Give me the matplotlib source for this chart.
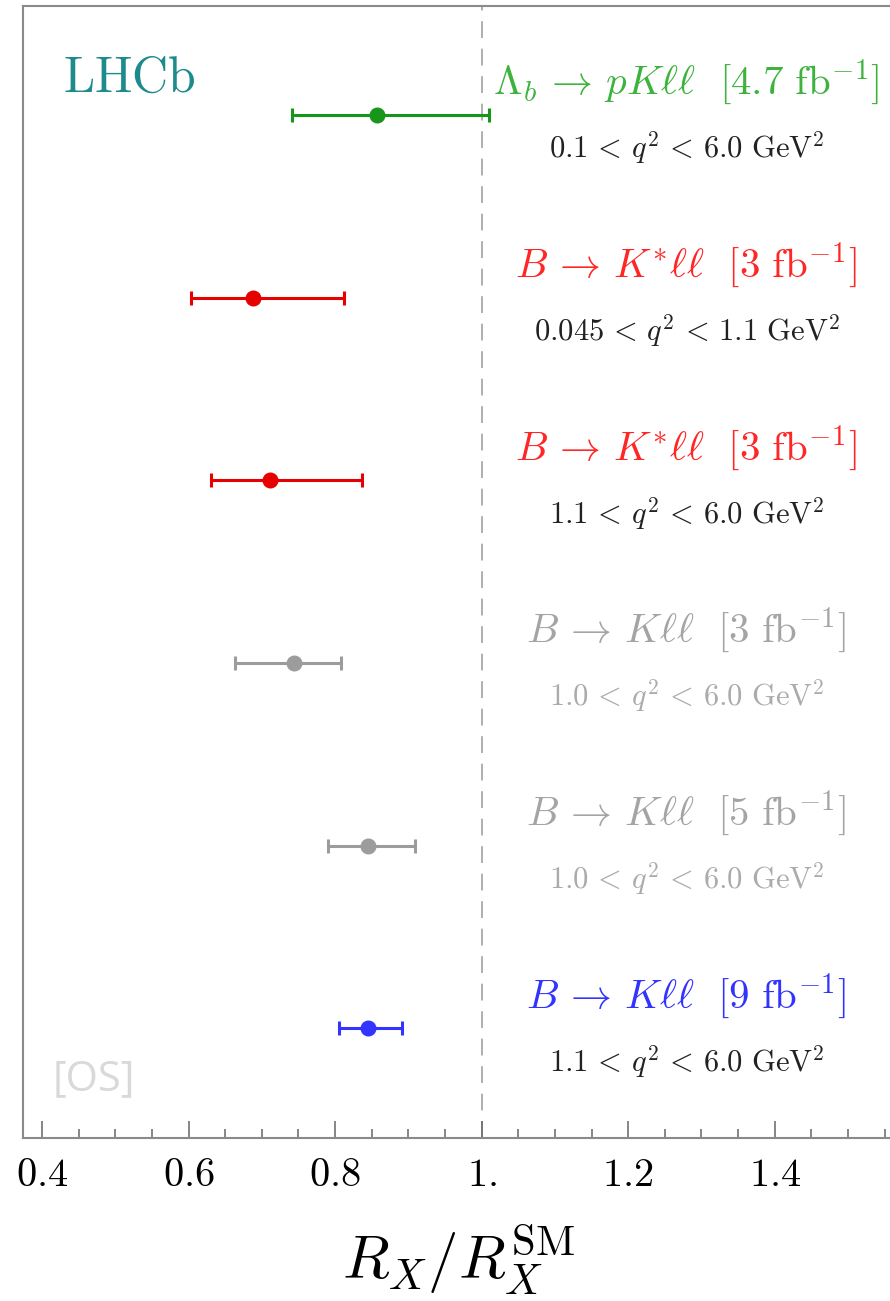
import matplotlib
matplotlib.use("Agg")
import matplotlib.pyplot as plt
from matplotlib.ticker import MultipleLocator

plt.rcParams['mathtext.fontset'] = 'cm'
plt.rcParams['font.family'] = 'serif'
plt.rcParams['font.serif'] = ['DejaVu Serif']

# measurements, top to bottom
modes = [r"\Lambda_b \,\to\, pK\ell\ell", r"B \,\to\, K^{*}\ell\ell", r"B \,\to\, K^{*}\ell\ell",
         r"B \,\to\, K\ell\ell", r"B \,\to\, K\ell\ell", r"B \,\to\, K\ell\ell"]
lumi = ["4.7", "3", "3", "3", "5", "9"]
q2_lo = ["0.1", "0.045", "1.1", "1.0", "1.0", "1.1"]
q2_hi = ["6.0", "1.1", "6.0", "6.0", "6.0", "6.0"]
ratio = [0.857, 0.688, 0.711, 0.744, 0.845, 0.845]
err_lo = [0.116, 0.085, 0.080, 0.081, 0.055, 0.039]
err_hi = [0.153, 0.124, 0.126, 0.064, 0.064, 0.046]
point_col = ['#18961a', '#e60000', '#e60000', '#9c9c9c', '#9c9c9c', '#3434ff']
title_col = ['#3db33d', '#ff2626', '#ff2626', '#a4a4a4', '#a4a4a4', '#3333ff']
sub_col = ['#222222', '#222222', '#222222', '#ababab', '#ababab', '#222222']

xticks = [0.4, 0.6, 0.8, 1.0, 1.2, 1.4]
xtick_labels = ["0.4", "0.6", "0.8", "1.", "1.2", "1.4"]

fig = plt.figure(figsize=(8.9, 13.01), dpi=100)
ax = fig.add_axes([0.0258, 0.1253, 0.978, 0.8701])

n = len(ratio)
ypos = [n - i for i in range(n)]

ax.axvline(1.0, color='#9a9a9a', lw=1.1, dashes=(11, 7), zorder=1)

for i in range(n):
    ax.errorbar(ratio[i], ypos[i], xerr=[[err_lo[i]], [err_hi[i]]],
                fmt='o', color=point_col[i], ms=10.5, lw=2.2,
                capsize=5, capthick=2.2, zorder=3)
    ax.text(1.279, ypos[i] + 0.11,
            r"$%s\ \ [%s\ \mathrm{fb}^{-1}]$" % (modes[i], lumi[i]),
            color=title_col[i], fontsize=29.5, ha='center', va='baseline')
    ax.text(1.28, ypos[i] - 0.235,
            r"$%s \,<\, q^2 \,<\, %s\ \mathrm{GeV}^2$" % (q2_lo[i], q2_hi[i]),
            color=sub_col[i], fontsize=22, ha='center', va='baseline')

ax.text(0.429, 6.126, r"$\mathrm{LHCb}$", color='#1d8b8b', fontsize=36,
        ha='left', va='baseline')
ax.text(0.414, 0.663, "[OS]", color='#d9d9d9', fontsize=30,
        family='Open Sans', ha='left', va='baseline')

ax.set_xlim(0.374, 1.562)
ax.set_ylim(0.400, 6.597)

ax.set_xticks(xticks)
ax.set_xticklabels(["$%s$" % t for t in xtick_labels], fontsize=29)
ax.xaxis.set_minor_locator(MultipleLocator(0.05))
ax.tick_params(axis='x', which='major', direction='in', length=12, width=1.1,
               color='#666666', pad=14)
ax.tick_params(axis='x', which='minor', direction='in', length=6.5, width=1.1,
               color='#666666')
ax.set_yticks([])

for side in ['left', 'top', 'bottom']:
    ax.spines[side].set_color('#8a8a8a')
    ax.spines[side].set_linewidth(1.5)
ax.spines['right'].set_visible(False)

ax.set_xlabel(r"$R_X/R_X^{\mathrm{SM}}$", fontsize=44, labelpad=20)

fig.savefig("out.png", dpi=100)
